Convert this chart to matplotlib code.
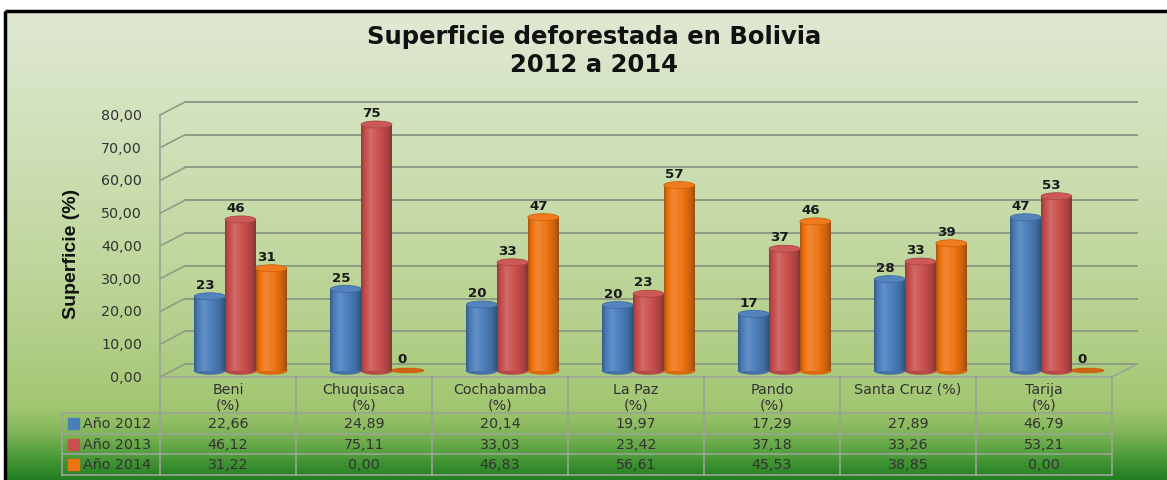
import numpy as np
import matplotlib
matplotlib.use('Agg')
import matplotlib.pyplot as plt
from matplotlib.colors import LinearSegmentedColormap, to_rgb
from matplotlib.patches import Ellipse, Rectangle
from matplotlib.transforms import blended_transform_factory

categories = ['Beni\n(%)', 'Chuquisaca\n(%)', 'Cochabamba\n(%)', 'La Paz\n(%)',
              'Pando\n(%)', 'Santa Cruz (%)', 'Tarija\n(%)']
series = ['Año 2012', 'Año 2013', 'Año 2014']
v2012 = [22.66, 24.89, 20.14, 19.97, 17.29, 27.89, 46.79]
v2013 = [46.12, 75.11, 33.03, 23.42, 37.18, 33.26, 53.21]
v2014 = [31.22, 0.00, 46.83, 56.61, 45.53, 38.85, 0.00]
yticks = [0, 10, 20, 30, 40, 50, 60, 70, 80]
colors = ['#4a7ebb', '#c9504e', '#f07412']

W, H = 1167, 481
fig = plt.figure(figsize=(W / 100, H / 100), dpi=100)
fig.patch.set_facecolor('white')

# background in pixel coords
bg = fig.add_axes([0, 0, 1, 1])
bg.axis('off')
stops = [(0.0, '#e0e8d3'), (0.22, '#d3e2be'), (0.5, '#c2d8a1'), (0.72, '#b0ce86'),
         (0.85, '#a1c670'), (0.9, '#82b65a'), (0.95, '#4f9c3a'), (1.0, '#227f22')]
cmap = LinearSegmentedColormap.from_list('bg', stops)
grad = np.linspace(0, 1, 400).reshape(-1, 1)
bg.imshow(grad, cmap=cmap, extent=[5, W, H, 12], aspect='auto', interpolation='bilinear')
bg.add_patch(Rectangle((5, 12), W, H, fill=False, lw=2.5, ec='black'))
bg.set_xlim(0, W)
bg.set_ylim(H, 0)

# chart front plane: x 160..1112 px, y 0 -> 378 px, 80 -> 116 px
ax = fig.add_axes([160 / W, 1 - 378 / H, 952 / W, 262 / H])
ax.axis('off')
ax.patch.set_alpha(0)
px_x = 952 / 7
px_y = 262 / 80
DX = 25 / px_x
DY = 13 / px_y

gridc = '#8f9c85'
for v in yticks:
    ax.plot([-0.5 + DX, 6.5 + DX], [v + DY, v + DY], color=gridc, lw=1.4, clip_on=False, zorder=1)
    ax.plot([-0.5, -0.5 + DX], [v, v + DY], color=gridc, lw=1.2, clip_on=False, zorder=1)
    ax.text(-0.5 - 18 / px_x, v, f'{v:.2f}'.replace('.', ','), ha='right', va='center',
            fontsize=10.3, color='#333333')
ax.plot([-0.5, -0.5], [0, yticks[-1]], color='#9aa596', lw=1.2, clip_on=False, zorder=1)
ax.plot([-0.5, 6.5], [0, 0], color='#9aa596', lw=1.2, clip_on=False, zorder=1)
ax.plot([6.5, 6.5 + DX], [0, DY], color='#9aa596', lw=1.2, clip_on=False, zorder=1)


def mix(c, f):
    c = np.array(to_rgb(c))
    if f >= 1:
        return np.clip(c + (1 - c) * (f - 1), 0, 1)
    return np.clip(c * f, 0, 1)


tpos = [0, 0.08, 0.3, 0.6, 0.88, 1.0]
fpos = [0.72, 0.92, 1.15, 1.0, 0.82, 0.66]
tt = np.linspace(0, 1, 64)
ff = np.interp(tt, tpos, fpos)

w = 0.226
base = DY / 2
eh = 7 / px_y
x = np.arange(len(categories))
for j, vals in enumerate([v2012, v2013, v2014]):
    c = colors[j]
    xs = x + (j - 1) * w + DX / 2
    bars = ax.bar(xs, vals, width=w, bottom=base, color=c, zorder=3)
    img = np.array([[mix(c, f) for f in ff]])
    for rect, v, xc in zip(bars, vals, xs):
        if v > 0:
            ax.imshow(img, extent=[rect.get_x(), rect.get_x() + rect.get_width(),
                                   rect.get_y(), rect.get_y() + rect.get_height()],
                      aspect='auto', zorder=3.2, interpolation='bilinear')
            ax.add_patch(Ellipse((xc, base), w, eh, color=mix(c, 0.9), zorder=3.1))
            ax.add_patch(Ellipse((xc, base + v), w, eh, fc=mix(c, 1.05), ec=mix(c, 0.85),
                                 lw=0.6, zorder=3.3))
        else:
            rect.set_visible(False)
            ax.add_patch(Ellipse((xc, base), w * 1.05, 4 / px_y, color=mix(c, 0.85), zorder=3.1))
        ax.annotate(f'{v:.0f}', (xc, base + v), xytext=(-3.5, 8.5), textcoords='offset points',
                    ha='center', va='center', fontsize=9.6, fontweight='bold', color='#1a1a1a',
                    zorder=4)

ax.set_xlim(-0.5, 6.5)
ax.set_ylim(0, 80)

# data table
tr = blended_transform_factory(ax.transData, bg.transData)
tabc = '#9aa596'
rows_y = [414, 435, 455, 476]
for i in range(len(categories) + 1):
    ax.plot([i - 0.5, i - 0.5], [378, 476], color=tabc, lw=1.2, transform=tr, clip_on=False)
for y in rows_y:
    bg.plot([62, 1112], [y, y], color=tabc, lw=1.2)
bg.plot([62, 62], [414, 476], color=tabc, lw=1.2)
bg.set_xlim(0, W)
bg.set_ylim(H, 0)

for i, cat in enumerate(categories):
    ax.text(i, 383, cat, transform=tr, ha='center', va='top', fontsize=10.3,
            color='#333333', linespacing=1.15)
for j, vals in enumerate([v2012, v2013, v2014]):
    yc = (rows_y[j] + rows_y[j + 1]) / 2
    bg.add_patch(Rectangle((68, yc - 5.5), 11, 11, color=colors[j]))
    bg.text(83, yc, series[j], ha='left', va='center', fontsize=10.3, color='#333333')
    for i, v in enumerate(vals):
        ax.text(i, yc, f'{v:.2f}'.replace('.', ','), transform=tr, ha='center', va='center',
                fontsize=10.3, color='#333333')

bg.text(594, 37, 'Superficie deforestada en Bolivia', ha='center', va='center',
        fontsize=17.5, fontweight='bold', color='#111111')
bg.text(594, 65, '2012 a 2014', ha='center', va='center',
        fontsize=17.5, fontweight='bold', color='#111111')
bg.text(72, 254, 'Superficie (%)', rotation=90, ha='center', va='center',
        fontsize=14, fontweight='bold', family='Liberation Sans', color='#111111')

fig.savefig('out.png', dpi=100)
